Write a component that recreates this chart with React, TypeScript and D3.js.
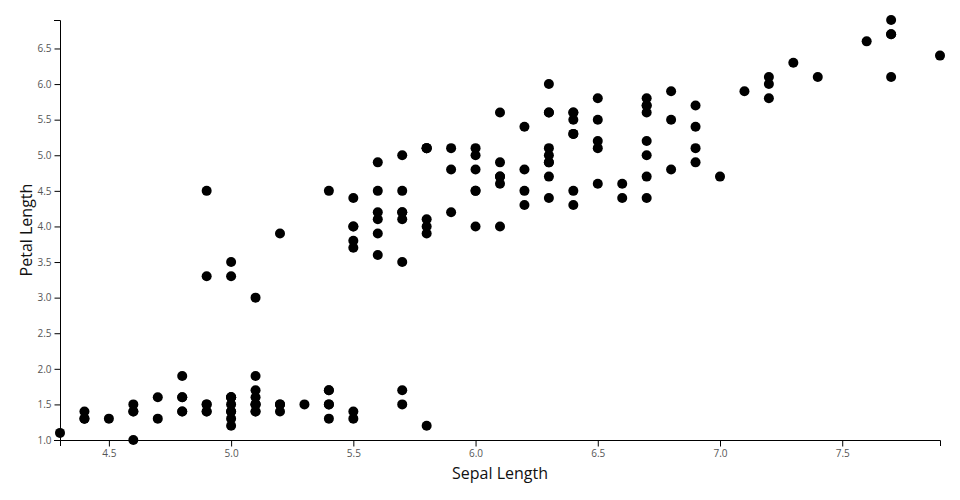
import React from "react";
import * as d3 from "d3";

const sepalLength = [
  5.1, 4.9, 4.7, 4.6, 5.0, 5.4, 4.6, 5.0, 4.4, 4.9, 5.4, 4.8, 4.8, 4.3, 5.8, 5.7, 5.4, 5.1, 5.7, 5.1,
  5.4, 5.1, 4.6, 5.1, 4.8, 5.0, 5.0, 5.2, 5.2, 4.7, 4.8, 5.4, 5.2, 5.5, 4.9, 5.0, 5.5, 4.9, 4.4, 5.1,
  5.0, 4.5, 4.4, 5.0, 5.1, 4.8, 5.1, 4.6, 5.3, 5.0,
  7.0, 6.4, 6.9, 5.5, 6.5, 5.7, 6.3, 4.9, 6.6, 5.2, 5.0, 5.9, 6.0, 6.1, 5.6, 6.7, 5.6, 5.8, 6.2, 5.6,
  5.9, 6.1, 6.3, 6.1, 6.4, 6.6, 6.8, 6.7, 6.0, 5.7, 5.5, 5.5, 5.8, 6.0, 5.4, 6.0, 6.7, 6.3, 5.6, 5.5,
  5.5, 6.1, 5.8, 5.0, 5.6, 5.7, 5.7, 6.2, 5.1, 5.7,
  6.3, 5.8, 7.1, 6.3, 6.5, 7.6, 4.9, 7.3, 6.7, 7.2, 6.5, 6.4, 6.8, 5.7, 5.8, 6.4, 6.5, 7.7, 7.7, 6.0,
  6.9, 5.6, 7.7, 6.3, 6.7, 7.2, 6.2, 6.1, 6.4, 7.2, 7.4, 7.9, 6.4, 6.3, 6.1, 7.7, 6.3, 6.4, 6.0, 6.9,
  6.7, 6.9, 5.8, 6.8, 6.7, 6.7, 6.3, 6.5, 6.2, 5.9,
];

const petalLength = [
  1.4, 1.4, 1.3, 1.5, 1.4, 1.7, 1.4, 1.5, 1.4, 1.5, 1.5, 1.6, 1.4, 1.1, 1.2, 1.5, 1.3, 1.4, 1.7, 1.5,
  1.7, 1.5, 1.0, 1.7, 1.9, 1.6, 1.6, 1.5, 1.4, 1.6, 1.6, 1.5, 1.5, 1.4, 1.5, 1.2, 1.3, 1.4, 1.3, 1.5,
  1.3, 1.3, 1.3, 1.6, 1.9, 1.4, 1.6, 1.4, 1.5, 1.4,
  4.7, 4.5, 4.9, 4.0, 4.6, 4.5, 4.7, 3.3, 4.6, 3.9, 3.5, 4.2, 4.0, 4.7, 3.6, 4.4, 4.5, 4.1, 4.5, 3.9,
  4.8, 4.0, 4.9, 4.7, 4.3, 4.4, 4.8, 5.0, 4.5, 3.5, 3.8, 3.7, 3.9, 5.1, 4.5, 4.5, 4.7, 4.4, 4.1, 4.0,
  4.4, 4.6, 4.0, 3.3, 4.2, 4.2, 4.2, 4.3, 3.0, 4.1,
  6.0, 5.1, 5.9, 5.6, 5.8, 6.6, 4.5, 6.3, 5.8, 6.1, 5.1, 5.3, 5.5, 5.0, 5.1, 5.3, 5.5, 6.7, 6.9, 5.0,
  5.7, 4.9, 6.7, 4.9, 5.7, 6.0, 4.8, 4.9, 5.6, 5.8, 6.1, 6.4, 5.6, 5.1, 5.6, 6.1, 5.6, 5.5, 4.8, 5.4,
  5.6, 5.1, 5.1, 5.9, 5.7, 5.2, 5.0, 5.2, 5.4, 5.1,
];

const xLabel = "Sepal Length";
const yLabel = "Petal Length";

const W = 960;
const H = 500;
const margin = { left: 60, right: 20, top: 20, bottom: 60 };

export default function App() {
  const x = d3
    .scaleLinear()
    .domain(d3.extent(sepalLength) as [number, number])
    .range([margin.left, W - margin.right]);
  const y = d3
    .scaleLinear()
    .domain(d3.extent(petalLength) as [number, number])
    .range([H - margin.bottom, margin.top]);

  const xTicks = x.ticks();
  const yTicks = y.ticks();
  const fmt = d3.format(".1f");
  const font = "'Open Sans', sans-serif";
  const x0 = margin.left;
  const y0 = H - margin.bottom;

  return (
    <svg
      width={W}
      height={H}
      style={{ position: "absolute", left: 0, top: 0, display: "block" }}
      fontFamily={font}
    >
      {/* x axis */}
      <g>
        <path
          d={`M${x.range()[0] + 0.5},${y0 + 6}V${y0 + 0.5}H${x.range()[1] + 0.5}V${y0 + 6}`}
          fill="none"
          stroke="#000"
        />
        {xTicks.map((t) => (
          <g key={t} transform={`translate(${x(t) + 0.5},${y0 + 0.5})`}>
            <line y2={6} stroke="#000" />
            <text y={9} dy="0.71em" textAnchor="middle" fontSize={10} fill="#555">
              {fmt(t)}
            </text>
          </g>
        ))}
      </g>
      {/* y axis */}
      <g>
        <path
          d={`M${x0 - 6},${y.range()[1] + 0.5}H${x0 + 0.5}V${y.range()[0] + 0.5}H${x0 - 6}`}
          fill="none"
          stroke="#000"
        />
        {yTicks.map((t) => (
          <g key={t} transform={`translate(${x0 + 0.5},${y(t) + 0.5})`}>
            <line x2={-6} stroke="#000" />
            <text x={-9} dy="0.32em" textAnchor="end" fontSize={10} fill="#555">
              {fmt(t)}
            </text>
          </g>
        ))}
      </g>
      <text x={(margin.left + W - margin.right) / 2} y={479} textAnchor="middle" fontSize={16} fill="#111">
        {xLabel}
      </text>
      <text
        transform={`translate(32,${(margin.top + H - margin.bottom) / 2}) rotate(-90)`}
        textAnchor="middle"
        fontSize={16}
        fill="#111"
      >
        {yLabel}
      </text>
      <g>
        {sepalLength.map((s, i) => (
          <circle key={i} cx={x(s)} cy={y(petalLength[i])} r={5} fill="#000" />
        ))}
      </g>
    </svg>
  );
}
